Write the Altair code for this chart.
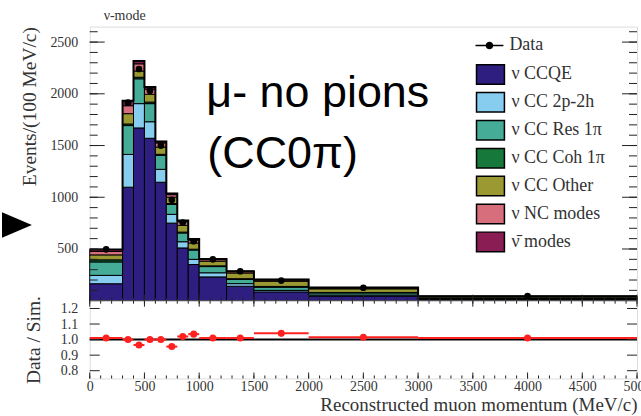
import altair as alt
import pandas as pd

# ---------------- data ----------------
bin_lo = [0, 300, 400, 500, 600, 700, 800, 900, 1000, 1250, 1500, 2000, 3000]
bin_hi = [300, 400, 500, 600, 700, 800, 900, 1000, 1250, 1500, 2000, 3000, 5000]

components = ["ν CCQE", "ν CC 2p-2h", "ν CC Res 1π", "ν CC Coh 1π",
              "ν CC Other", "ν NC modes", "ν̄ modes"]
comp_colors = ["#2d1e80", "#86cdf0", "#45ac98", "#16783a",
               "#9b9a32", "#d66e7c", "#8b1d55"]

ccqe = [164, 1097, 1670, 1570, 1145, 750, 510, 350, 230, 140, 85, 45, 14]
cc2p2h = [81, 317, 235, 160, 125, 85, 60, 50, 40, 25, 15, 10, 3]
ccres = [130, 279, 240, 175, 135, 95, 85, 90, 60, 40, 30, 20, 8]
cccoh = [20, 15, 15, 15, 10, 10, 8, 8, 7, 8, 8, 5, 2]
ccother = [48, 100, 60, 75, 70, 60, 65, 60, 45, 55, 50, 35, 12]
ncmodes = [33, 77, 70, 50, 40, 25, 35, 28, 15, 12, 12, 8, 3]
antinu = [19, 49, 28, 20, 15, 12, 12, 10, 7, 6, 6, 5, 2]
series = [ccqe, cc2p2h, ccres, cccoh, ccother, ncmodes, antinu]

data_x = [150, 350, 450, 550, 650, 750, 850, 950, 1125, 1375, 1750, 2500, 4000]
data_y = [497, 1914, 2240, 2030, 1500, 975, 755, 575, 400, 285, 195, 125, 45]

ratio = [1.01, 1.0, 0.965, 1.0, 1.0, 0.955, 1.02, 1.035, 1.01, 1.01, 1.04, 1.015, 1.01]
ratio_err = [0.012, 0.012, 0.012, 0.012, 0.012, 0.014, 0.016, 0.018, 0.015, 0.017, 0.012, 0.014, 0.015]

top_y_labels = [500, 1000, 1500, 2000, 2500]
top_y_major = [0, 500, 1000, 1500, 2000, 2500]
bot_y_labels = [0.8, 0.9, 1.0, 1.1, 1.2]
x_labels = [0, 500, 1000, 1500, 2000, 2500, 3000, 3500, 4000, 4500, 5000]
x_minor = list(range(0, 5001, 100))
top_y_minor = list(range(0, 2601, 100))

# ---------------- tables ----------------
rows = []
totals = []
for i in range(len(bin_lo)):
    base = 0
    for name, vals in zip(components, series):
        rows.append(dict(lo=bin_lo[i], hi=bin_hi[i], y0=base, y1=base + vals[i], comp=name))
        base += vals[i]
    totals.append(base)
stack_df = pd.DataFrame(rows)
outline_df = pd.DataFrame({"x": bin_lo + [bin_hi[-1]], "y": totals + [totals[-1]]})
pts_df = pd.DataFrame({"x": data_x, "y": data_y, "lbl": ["Data"] * len(data_x)})
ratio_df = pd.DataFrame({"x": data_x, "lo": bin_lo, "hi": bin_hi, "r": ratio,
                         "rlo": [r - e for r, e in zip(ratio, ratio_err)],
                         "rhi": [r + e for r, e in zip(ratio, ratio_err)]})

W, H_TOP, H_BOT = 549, 275, 78
SERIF = "Liberation Serif"
TXT = "#333333"

xs = alt.Scale(domain=[0, 5000], nice=False, zero=False)
ys_top = alt.Scale(domain=[0, 2650], nice=False, zero=False)
ys_bot = alt.Scale(domain=[0.75, 1.25], nice=False, zero=False)

AX_TOP_Y = alt.Axis(
    values=top_y_labels, format="d", ticks=False, domain=False, grid=False, labelFlush=False,
    labelPadding=12, labelFont=SERIF, labelFontSize=14, labelColor=TXT,
    title="Events/(100 MeV/c)", titleFont=SERIF, titleFontSize=19.5,
    titleFontWeight="normal", titleColor=TXT, titleAnchor="end", titlePadding=10)
AX_BOT_Y = alt.Axis(
    values=bot_y_labels, format=".1f", ticks=False, domain=False, grid=False, labelFlush=False,
    labelPadding=12, labelFont=SERIF, labelFontSize=14, labelColor=TXT,
    title="Data / Sim.", titleFont=SERIF, titleFontSize=19.5,
    titleFontWeight="normal", titleColor=TXT, titlePadding=17)
AX_BOT_X = alt.Axis(
    values=x_labels, format="d", ticks=False, domain=False, grid=False, labelFlush=False,
    labelPadding=1, labelFont=SERIF, labelFontSize=14, labelColor=TXT,
    title="Reconstructed muon momentum (MeV/c)", titleFont=SERIF, titleFontSize=19,
    titleFontWeight="normal", titleColor=TXT, titleAnchor="end", titlePadding=2)

def df_of(vals):
    return pd.DataFrame({"v": vals})

one = pd.DataFrame({"a": [0]})

# ---------------- top panel ----------------
rects = alt.Chart(stack_df).mark_rect(stroke="black", strokeWidth=1).encode(
    x=alt.X("lo:Q", scale=xs, axis=None),
    x2="hi:Q",
    y=alt.Y("y0:Q", scale=ys_top, axis=AX_TOP_Y),
    y2="y1:Q",
    fill=alt.Fill("comp:N", scale=alt.Scale(domain=components, range=comp_colors),
                  legend=alt.Legend(orient="none", legendX=387, legendY=33, title=None,
                                    symbolType="M-1,-0.7L1,-0.7L1,0.7L-1,0.7Z",
                                    symbolSize=784, symbolStrokeColor="black",
                                    symbolStrokeWidth=1.5, symbolOpacity=1,
                                    labelFont=SERIF, labelFontSize=18, labelColor=TXT,
                                    labelOffset=6, rowPadding=0, padding=0, labelLimit=300)),
)

outline = alt.Chart(outline_df).mark_line(interpolate="step-after", color="black", strokeWidth=2).encode(
    x=alt.X("x:Q", scale=xs, axis=None),
    y=alt.Y("y:Q", scale=ys_top, axis=AX_TOP_Y),
)

points = alt.Chart(pts_df).mark_circle(size=45, opacity=1).encode(
    x=alt.X("x:Q", scale=xs, axis=None),
    y=alt.Y("y:Q", scale=ys_top, axis=AX_TOP_Y),
    color=alt.Color("lbl:N", scale=alt.Scale(domain=["Data"], range=["black"]),
                    legend=alt.Legend(orient="none", legendX=387, legendY=5, title=None,
                                      symbolType="M-1,-0.06L1,-0.06L1,0.06L-1,0.06Z M0.27,0A0.27,0.27,0,1,1,-0.27,0A0.27,0.27,0,1,1,0.27,0Z",
                                      symbolSize=784, symbolFillColor="black",
                                      symbolStrokeWidth=0, symbolOpacity=1,
                                      labelFont=SERIF, labelFontSize=18, labelColor=TXT,
                                      labelOffset=6, padding=0)),
)

def yticks(vals, scale, axis, length, width):
    left = alt.Chart(df_of(vals)).mark_rule(color="#222", strokeWidth=1).encode(
        y=alt.Y("v:Q", scale=scale, axis=axis), x=alt.value(0), x2=alt.value(length))
    right = alt.Chart(df_of(vals)).mark_rule(color="#222", strokeWidth=1).encode(
        y=alt.Y("v:Q", scale=scale, axis=axis), x=alt.value(width), x2=alt.value(width - length))
    return [left, right]

def xticks(vals, axis, y_from, y_to):
    return [alt.Chart(df_of(vals)).mark_rule(color="#222", strokeWidth=1).encode(
        x=alt.X("v:Q", scale=xs, axis=axis), y=alt.value(y_from), y2=alt.value(y_to))]

top_ticks = (yticks(top_y_major, ys_top, AX_TOP_Y, 15, W) + yticks(top_y_minor, ys_top, AX_TOP_Y, 8, W)
             + xticks(x_labels, None, H_TOP, H_TOP - 6) + xticks(x_minor, None, H_TOP, H_TOP - 3))

txt1 = alt.Chart(one).mark_text(text="μ- no pions", font="Liberation Sans", fontSize=45,
                                align="left", baseline="alphabetic", color="black").encode(
    x=alt.value(117), y=alt.value(81))
txt2 = alt.Chart(one).mark_text(text="(CC0π)", font="Liberation Sans", fontSize=45,
                                align="left", baseline="alphabetic", color="black").encode(
    x=alt.value(118), y=alt.value(142))

arrow = alt.Chart(one).mark_point(shape="M-1,-0.85L1,0L-1,0.85Z", size=900, filled=True,
                                  color="black", opacity=1, clip=False).encode(
    x=alt.value(-73), y=alt.value(199))

top = alt.layer(rects, outline, *top_ticks, points, txt1, txt2, arrow).properties(
    width=W, height=H_TOP,
    title=alt.TitleParams("ν-mode", anchor="start", frame="group", dx=14, offset=4, font=SERIF,
                          fontSize=14, fontWeight="normal", color=TXT))

# ---------------- ratio panel ----------------
one_line = alt.Chart(df_of([1.0])).mark_rule(color="black", strokeWidth=2).encode(
    y=alt.Y("v:Q", scale=ys_bot, axis=AX_BOT_Y))

herr = alt.Chart(ratio_df).mark_rule(color="#ff2020", strokeWidth=2).encode(
    x=alt.X("lo:Q", scale=xs, axis=AX_BOT_X), x2="hi:Q",
    y=alt.Y("r:Q", scale=ys_bot, axis=AX_BOT_Y))
verr = alt.Chart(ratio_df).mark_rule(color="#ff2020", strokeWidth=2).encode(
    x=alt.X("x:Q", scale=xs, axis=AX_BOT_X),
    y=alt.Y("rlo:Q", scale=ys_bot, axis=AX_BOT_Y), y2="rhi:Q")
rpts = alt.Chart(ratio_df).mark_circle(color="#ff2020", size=50, opacity=1).encode(
    x=alt.X("x:Q", scale=xs, axis=AX_BOT_X),
    y=alt.Y("r:Q", scale=ys_bot, axis=AX_BOT_Y))

bot_ticks = (yticks(bot_y_labels, ys_bot, AX_BOT_Y, 10, W)
             + xticks(x_labels, AX_BOT_X, H_BOT, H_BOT - 6) + xticks(x_minor, AX_BOT_X, H_BOT, H_BOT - 3)
             + xticks(x_labels, AX_BOT_X, 0, 6) + xticks(x_minor, AX_BOT_X, 0, 3))

bottom = alt.layer(one_line, herr, verr, rpts, *bot_ticks).properties(width=W, height=H_BOT)

chart = alt.vconcat(top, bottom, spacing=0, bounds="flush").resolve_scale(
    fill="independent", color="independent"
).resolve_legend(fill="independent", color="independent").properties(
    padding={"left": 1, "top": 7, "right": -11, "bottom": 0}
).configure_view(stroke="#222", strokeWidth=1.2).configure(background="white")

chart.save("out.html", embed_options={"renderer": "svg", "actions": False})
